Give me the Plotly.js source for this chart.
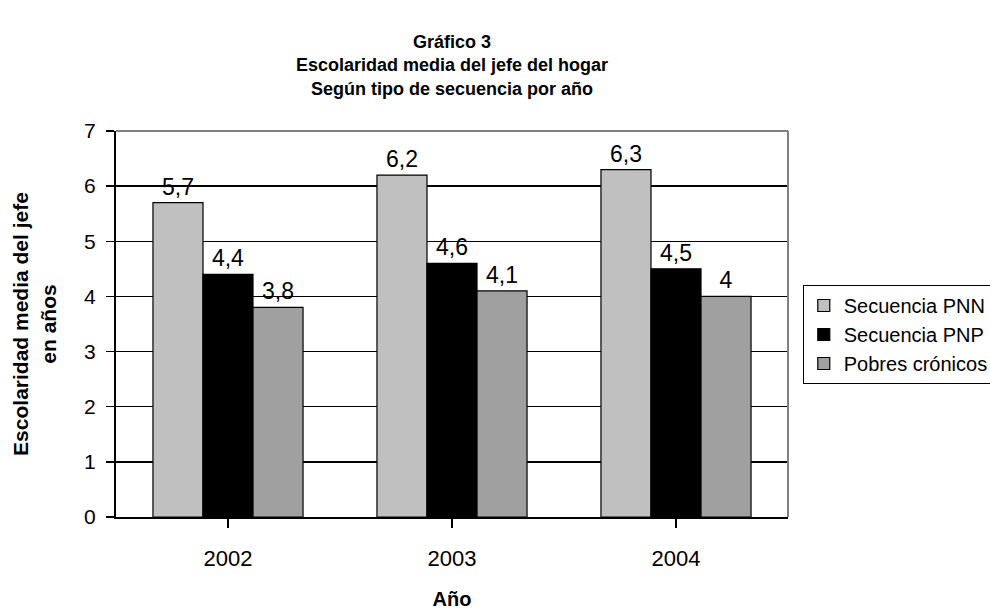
<!DOCTYPE html>
<html><head><meta charset="utf-8">
<script src="https://cdn.plot.ly/plotly-3.0.1.min.js"></script>
<style>body{margin:0;background:#fff}#c{width:990px;height:614px}</style>
</head><body><div id="c"></div>
<script>
const years = ['2002', '2003', '2004'];
const seriesNames = ['Secuencia PNN', 'Secuencia PNP', 'Pobres crónicos'];
const pnn = [5.7, 6.2, 6.3];
const pnp = [4.4, 4.6, 4.5];
const cronicos = [3.8, 4.1, 4.0];
const colors = ['#C0C0C0', '#000000', '#A0A0A0'];

const fmt = v => String(v).replace('.', ',');
const font = 'Liberation Sans, Arial, sans-serif';
const traces = [pnn, pnp, cronicos].map((vals, i) => ({
  type: 'bar', x: years, y: vals, name: seriesNames[i],
  marker: {color: colors[i], line: {color: '#000', width: 1.2}},
  text: vals.map(fmt), textposition: 'outside', cliponaxis: false,
  textfont: {family: font, size: 23, color: '#000'}
}));

const layout = {
  width: 990, height: 614,
  margin: {l: 116, r: 202, t: 131, b: 97, autoexpand: false},
  paper_bgcolor: '#fff', plot_bgcolor: '#fff',
  font: {family: font, color: '#000'},
  barmode: 'group', bargap: 0.33, bargroupgap: 0,
  title: {text: '<b>Gráfico 3</b><br><b>Escolaridad media del jefe del hogar</b><br><b>Según tipo de secuencia por año</b>',
    xref: 'paper', x: 0.5, xanchor: 'center', yref: 'container', y: 0.922, yanchor: 'middle',
    font: {size: 18, family: font}},
  xaxis: {showgrid: false, showline: true, linecolor: '#000', linewidth: 2,
    ticks: 'outside', ticklen: 9, tickcolor: '#000', tickwidth: 1.5, tickson: 'boundaries',
    tickfont: {size: 22, family: font}, ticklabelstandoff: 12,
    title: {text: '<b>Año</b>', font: {size: 20, family: font}, standoff: 22}},
  yaxis: {range: [0, 7], dtick: 1, showgrid: true, gridcolor: '#000', gridwidth: 1.5,
    zeroline: false, showline: true, linecolor: '#000', linewidth: 2,
    ticks: 'outside', ticklen: 8, tickcolor: '#000', tickwidth: 1.5,
    tickfont: {size: 21, family: font}, ticklabelstandoff: 6,
    title: {text: '<b>Escolaridad media del jefe<br>en años</b>', font: {size: 21, family: font}, standoff: 22}},
  legend: {x: 1.022, xanchor: 'left', y: 0.601, yanchor: 'top',
    bordercolor: '#000', borderwidth: 1, font: {size: 20, family: font},
    tracegroupgap: 0, itemwidth: 30},
  shapes: [
    {type: 'line', xref: 'paper', yref: 'paper', x0: 0, x1: 1, y0: 1, y1: 1, line: {color: '#808080', width: 2}},
    {type: 'line', xref: 'paper', yref: 'paper', x0: 1, x1: 1, y0: 0, y1: 1, line: {color: '#808080', width: 2}}
  ],
  showlegend: true
};
Plotly.newPlot('c', traces, layout, {displayModeBar: false, staticPlot: true});
</script></body></html>
